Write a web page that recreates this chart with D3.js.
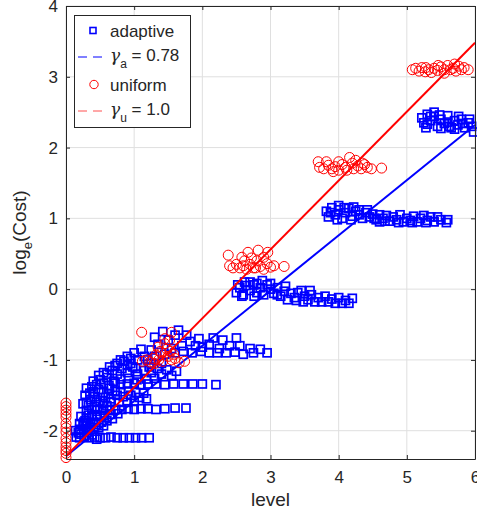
<!DOCTYPE html>
<html>
<head>
<meta charset="utf-8">
<script src="https://cdn.jsdelivr.net/npm/d3@7"></script>
<style>
  body { margin: 0; background: #fff; }
  text { font-family: "Liberation Sans", Arial, Helvetica, sans-serif; fill: #262626; }
</style>
</head>
<body>
<div class="canvas"></div>
<script>
// data: [level, log cost]
const adaptive = [
  // band near -2.1
  [0.15,-2.09],[0.2,-2.1],[0.27,-2.08],[0.34,-2.1],[0.42,-2.09],[0.5,-2.1],[0.58,-2.1],[0.66,-2.09],
  [0.75,-2.1],[0.84,-2.1],[0.93,-2.1],[1.02,-2.1],[1.11,-2.1],[1.22,-2.1],[0.22,-2.05],[0.3,-2.03],
  [0.38,-2.06],[0.45,-2.12],
  [0.14,-2.0],[0.18,-2.03],[0.26,-1.99],[0.32,-2.0],[0.4,-1.98],[0.48,-1.96],[0.55,-1.93],
  [0.2,-1.9],[0.26,-1.88],[0.36,-1.9],[0.44,-1.91],[0.52,-1.88],[0.6,-1.86],[0.68,-1.83],
  [0.22,-1.8],[0.3,-1.82],[0.38,-1.8],[0.46,-1.78],[0.56,-1.79],[0.66,-1.77],[0.76,-1.76],
  [0.2,-1.98],[0.25,-1.93],[0.3,-1.9],[0.35,-1.95],[0.4,-1.88],[0.28,-1.86],[0.45,-1.84],[0.5,-1.8],[0.33,-1.78],
  // band near -1.7
  [0.3,-1.72],[0.38,-1.7],[0.46,-1.7],[0.55,-1.71],[0.64,-1.7],[0.73,-1.7],[0.82,-1.7],[0.91,-1.69],
  [1.0,-1.7],[1.1,-1.69],[1.2,-1.69],[1.32,-1.7],[1.45,-1.69],[1.6,-1.68],[1.76,-1.68],[0.42,-1.66],[0.6,-1.65],
  [0.3,-1.6],[0.36,-1.56],[0.42,-1.52],[0.5,-1.58],[0.58,-1.53],[0.66,-1.55],[0.75,-1.5],[0.84,-1.52],
  [0.95,-1.5],[1.08,-1.53],[1.18,-1.55],[0.4,-1.45],[0.48,-1.42],[0.55,-1.46],[0.64,-1.4],[0.72,-1.44],
  [0.25,-1.62],[0.33,-1.64],[0.45,-1.6],[0.55,-1.62],[0.65,-1.6],[0.78,-1.6],[0.9,-1.6],[1.0,-1.58],
  [0.28,-1.5],[0.35,-1.47],[0.62,-1.48],[0.8,-1.45],[0.92,-1.44],[1.02,-1.46],[1.14,-1.47],[0.3,-1.4],[0.38,-1.38],
  // band near -1.35
  [0.45,-1.35],[0.55,-1.33],[0.63,-1.36],[0.72,-1.33],[0.8,-1.35],[0.9,-1.34],[1.0,-1.33],[1.1,-1.35],
  [1.2,-1.34],[1.32,-1.34],[1.45,-1.35],[1.58,-1.34],[1.72,-1.34],[1.86,-1.34],[2.0,-1.34],[2.2,-1.35],
  [0.5,-1.28],[0.6,-1.25],[0.7,-1.3],
  [0.6,-1.2],[0.68,-1.15],[0.75,-1.2],[0.82,-1.12],[0.9,-1.18],[0.98,-1.1],[1.05,-1.2],[1.15,-1.15],
  [1.25,-1.18],[1.4,-1.2],[1.55,-1.22],[0.75,-1.05],[0.85,-1.02],[0.95,-1.05],[1.05,-1.0],[1.15,-0.95],
  [0.4,-1.3],[0.8,-1.27],[0.92,-1.26],[1.04,-1.28],[1.18,-1.27],[1.3,-1.26],[0.48,-1.22],[0.55,-1.18],
  [0.64,-1.1],[0.72,-1.08],[0.9,-1.08],[1.02,-1.12],[1.22,-1.1],[1.34,-1.12],[1.48,-1.14],[1.62,-1.16],
  [0.8,-1.0],[0.9,-0.95],[1.25,-1.05],[1.4,-1.05],
  // band near -0.9
  [1.2,-1.0],[1.3,-0.95],[1.45,-0.92],[1.6,-0.9],[1.72,-0.88],[1.85,-0.9],[1.98,-0.88],[2.1,-0.9],
  [2.22,-0.9],[2.35,-0.9],[2.48,-0.89],[2.6,-0.92],[2.75,-0.9],[2.95,-0.9],[1.9,-0.8],[2.1,-0.78],
  [2.3,-0.72],[1.77,-0.65],[2.16,-0.69],[2.5,-0.69],[1.5,-0.72],[1.35,-0.78],[1.6,-0.65],[1.42,-0.6],
  [1.0,-0.9],[0.95,-0.98],[1.1,-0.85],[2.0,-0.82],[2.4,-0.8],[2.7,-0.84],
  [1.25,-0.86],[1.55,-0.84],[1.7,-0.8],[1.82,-0.74],[2.25,-0.84],[2.55,-0.8],[2.85,-0.85],[1.95,-0.7],
  [1.3,-0.68],[1.65,-0.58],
  // band near 0
  [2.5,-0.05],[2.55,0.02],[2.6,-0.08],[2.65,0.05],[2.7,-0.02],[2.75,0.06],[2.8,-0.05],[2.85,0.02],
  [2.9,-0.08],[2.95,0.06],[3.0,0.0],[3.05,-0.06],[3.1,0.02],[3.15,-0.1],[3.2,-0.03],[3.3,-0.06],
  [3.35,-0.12],[3.4,-0.05],[3.5,-0.1],[3.55,-0.15],[3.6,-0.08],[3.7,-0.12],[3.75,-0.18],[3.8,-0.1],
  [3.9,-0.14],[3.95,-0.2],[4.0,-0.12],[4.1,-0.16],[4.2,-0.13],[2.62,0.1],[2.8,0.08],[3.25,-0.15],
  [3.45,-0.02],[3.65,-0.18],[4.05,-0.2],
  [2.52,0.06],[2.7,0.1],[2.88,0.12],[3.0,0.08],[3.1,-0.08],[3.22,0.04],[3.38,-0.16],[3.58,-0.02],
  [3.85,-0.18],[4.15,-0.2],[2.58,-0.1],[2.76,-0.1],[3.48,-0.18],
  // band near 1
  [3.82,1.1],[3.85,1.02],[3.9,1.15],[3.95,1.05],[4.0,1.12],[4.05,1.0],[4.1,1.08],[4.15,1.14],
  [4.2,1.03],[4.25,1.1],[4.3,1.05],[4.35,1.0],[4.4,1.08],[4.45,1.02],[4.5,1.06],[4.55,0.98],
  [4.6,1.05],[4.65,1.0],[4.7,1.04],[4.75,0.96],[4.8,1.02],[4.85,0.98],[4.9,1.05],[4.95,0.95],
  [5.0,1.0],[5.05,0.97],[5.1,1.03],[5.15,0.95],[5.2,1.0],[5.3,0.97],[5.35,1.02],[5.4,0.95],
  [5.5,0.98],[5.6,0.98],[4.0,1.18],[4.3,1.12],[4.6,0.95],[5.25,1.04],
  [3.88,1.08],[4.08,1.15],[4.22,1.16],[4.42,1.12],[4.52,1.0],[4.68,0.96],[4.88,0.94],[5.08,0.94],
  [5.28,0.94],[5.45,1.02],[5.58,0.94],[3.98,0.98],[4.18,0.98],
  // band near 2.4
  [5.22,2.42],[5.25,2.35],[5.3,2.47],[5.35,2.38],[5.4,2.44],[5.45,2.3],[5.5,2.4],[5.55,2.34],
  [5.6,2.45],[5.65,2.28],[5.7,2.38],[5.75,2.32],[5.8,2.4],[5.85,2.28],[5.9,2.35],[5.95,2.3],
  [5.98,2.22],[5.28,2.28],[5.5,2.27],[5.7,2.26],[5.4,2.5],[5.6,2.36],
  [5.3,2.33],[5.48,2.46],[5.62,2.3],[5.82,2.34],[5.92,2.4],[5.35,2.44],[5.76,2.44]
];

const uniform = [
  [0,-2.38],[0,-2.32],[0,-2.28],[0,-2.23],[0,-2.17],[0,-2.11],[0,-2.02],[0,-1.96],[0,-1.9],
  [0,-1.81],[0,-1.76],[0,-1.71],[0,-1.66],[0,-1.61],
  [1.11,-0.61],[1.55,-0.61],[1.12,-1.02],[1.18,-1.0],[1.23,-1.03],[1.28,-0.98],[1.32,-0.93],[1.36,-1.0],
  [1.4,-0.9],[1.35,-0.82],[1.45,-0.77],[1.48,-0.85],[1.5,-0.95],[1.53,-0.88],[1.55,-1.0],[1.58,-0.92],
  [1.45,-0.7],[1.42,-1.02],[1.6,-0.98],[1.66,-1.04],[1.74,-1.02],[1.3,-1.05],[1.38,-0.88],[1.52,-0.72],
  [2.38,0.48],[2.67,0.52],[2.82,0.55],[2.96,0.52],[2.4,0.33],[2.45,0.3],[2.5,0.35],[2.55,0.3],
  [2.6,0.33],[2.65,0.28],[2.7,0.35],[2.75,0.3],[2.8,0.4],[2.85,0.32],[2.9,0.28],[2.95,0.36],
  [3.0,0.31],[3.05,0.33],[2.62,0.4],[2.72,0.44],[2.9,0.45],[3.2,0.32],[2.58,0.45],[2.78,0.3],
  [3.7,1.8],[3.72,1.72],[3.78,1.7],[3.85,1.75],[3.9,1.7],[3.95,1.73],[4.0,1.68],[4.05,1.76],
  [4.1,1.72],[4.16,1.86],[4.2,1.78],[4.22,1.7],[4.28,1.74],[4.33,1.7],[4.38,1.76],[4.42,1.72],
  [4.48,1.7],[4.63,1.71],[3.82,1.8],[4.0,1.8],[4.25,1.82],[4.35,1.78],[3.92,1.66],[4.12,1.68],
  [5.08,3.1],[5.13,3.12],[5.18,3.08],[5.22,3.13],[5.27,3.07],[5.32,3.1],[5.36,3.06],[5.4,3.12],
  [5.45,3.09],[5.5,3.14],[5.55,3.1],[5.6,3.16],[5.64,3.1],[5.68,3.12],[5.72,3.08],[5.76,3.15],
  [5.8,3.1],[5.84,3.13],[5.9,3.1],[5.28,3.13],[5.46,3.16],[5.7,3.18],[5.55,3.05]
];

// fitted lines, value at level 0 and 6
const fitLevels = [0, 6];
const adaptiveFit = [-2.36, 2.32];
const uniformFit = [-2.36, 3.48];

const xTicks = [0, 1, 2, 3, 4, 5, 6];
const yTicks = [-2, -1, 0, 1, 2, 3, 4];

//1. dimensions
const margin = {top: 6, right: 2, bottom: 54, left: 66};
const width = 477 - margin.left - margin.right;
const height = 513 - margin.top - margin.bottom;

const svg = d3.select('.canvas')
    .append('svg')
    .attr('width', 477)
    .attr('height', 513);

const graph = svg.append('g')
    .attr('transform', `translate(${margin.left},${margin.top})`);

const x = d3.scaleLinear().domain([0, 6]).range([0, width]);
const y = d3.scaleLinear().domain([-2.4, 4]).range([height, 0]);

//2. grid
graph.append('g').selectAll('line')
    .data(xTicks).enter().append('line')
    .attr('x1', d => x(d)).attr('x2', d => x(d))
    .attr('y1', 0).attr('y2', height)
    .attr('stroke', '#dfdfdf').attr('stroke-width', 1);
graph.append('g').selectAll('line')
    .data(yTicks).enter().append('line')
    .attr('y1', d => y(d)).attr('y2', d => y(d))
    .attr('x1', 0).attr('x2', width)
    .attr('stroke', '#dfdfdf').attr('stroke-width', 1);

//3. marks, in the order they were plotted
const line = d3.line().x(d => x(d[0])).y(d => y(d[1]));
const sq = 8;

graph.append('g').selectAll('rect')
    .data(adaptive).enter().append('rect')
    .attr('x', d => x(d[0]) - sq / 2)
    .attr('y', d => y(d[1]) - sq / 2)
    .attr('width', sq).attr('height', sq)
    .attr('fill', 'none')
    .attr('stroke', '#0000ff')
    .attr('stroke-width', 1.7);

graph.append('path')
    .datum(fitLevels.map((l, i) => [l, adaptiveFit[i]]))
    .attr('d', line)
    .attr('fill', 'none')
    .attr('stroke', '#0000ff')
    .attr('stroke-width', 2);

graph.append('g').selectAll('circle')
    .data(uniform).enter().append('circle')
    .attr('cx', d => x(d[0]))
    .attr('cy', d => y(d[1]))
    .attr('r', 5)
    .attr('fill', 'none')
    .attr('stroke', '#ff0000')
    .attr('stroke-width', 1);

graph.append('path')
    .datum(fitLevels.map((l, i) => [l, uniformFit[i]]))
    .attr('d', line)
    .attr('fill', 'none')
    .attr('stroke', '#ff0000')
    .attr('stroke-width', 2);

//4. axes (box on, ticks inside on all four sides)
const xAxis = d3.axisBottom(x).tickValues(xTicks).tickSizeInner(-4).tickSizeOuter(0).tickPadding(12)
    .tickFormat(d3.format('d'));
const yAxis = d3.axisLeft(y).tickValues(yTicks).tickSizeInner(-4).tickSizeOuter(0).tickPadding(8)
    .tickFormat(d => d < 0 ? '-' + Math.abs(d) : d);
const xTop = d3.axisTop(x).tickValues(xTicks).tickSizeInner(-4).tickSizeOuter(0).tickFormat('');
const yRight = d3.axisRight(y).tickValues(yTicks).tickSizeInner(-4).tickSizeOuter(0).tickFormat('');

graph.append('g').attr('transform', `translate(0,${height})`).call(xAxis);
graph.append('g').call(yAxis);
graph.append('g').call(xTop);
graph.append('g').attr('transform', `translate(${width},0)`).call(yRight);

graph.selectAll('.domain').attr('stroke', '#262626');
graph.selectAll('.tick line').attr('stroke', '#262626');
graph.selectAll('.tick text').attr('font-size', 17).attr('fill', '#262626')
    .style('font-family', '"Liberation Sans", Arial, sans-serif');

//5. axis labels
svg.append('text')
    .attr('x', margin.left + width / 2)
    .attr('y', 506)
    .attr('text-anchor', 'middle')
    .attr('font-size', 19)
    .text('level');

const ylab = svg.append('text')
    .attr('transform', `translate(26,${margin.top + height / 2}) rotate(-90)`)
    .attr('text-anchor', 'middle')
    .attr('font-size', 19);
ylab.append('tspan').text('log');
ylab.append('tspan').attr('font-size', 13).attr('dy', 6).text('e');
ylab.append('tspan').attr('dy', -6).text('(Cost)');

//6. legend
const legend = svg.append('g');
legend.append('rect')
    .attr('x', 74.5).attr('y', 15.5)
    .attr('width', 116).attr('height', 112)
    .attr('fill', '#fff')
    .attr('stroke', '#262626')
    .attr('stroke-width', 1);

const entries = [
    {kind: 'square', color: '#0000ff', label: 'adaptive', y: 30.5},
    {kind: 'line', color: '#0000ff', g: 'a', val: ' = 0.78', y: 57},
    {kind: 'circle', color: '#ff0000', label: 'uniform', y: 84.5},
    {kind: 'line', color: '#ff5050', g: 'u', val: ' = 1.0', y: 111}
];

entries.forEach(e => {
    if (e.kind === 'square') {
        legend.append('rect')
            .attr('x', 90).attr('y', e.y - 3).attr('width', 6).attr('height', 6)
            .attr('fill', 'none').attr('stroke', e.color).attr('stroke-width', 1.6);
    } else if (e.kind === 'circle') {
        legend.append('circle')
            .attr('cx', 94).attr('cy', e.y).attr('r', 4.2)
            .attr('fill', 'none').attr('stroke', e.color).attr('stroke-width', 1);
    } else {
        legend.append('line')
            .attr('x1', 78).attr('x2', 103).attr('y1', e.y).attr('y2', e.y)
            .attr('stroke', e.color).attr('stroke-width', 1)
            .attr('stroke-dasharray', '9,6');
    }
    const t = legend.append('text')
        .attr('x', 110)
        .attr('font-size', 17);
    if (e.label) {
        t.attr('y', e.y + 6.2).text(e.label);
    } else {
        t.attr('y', e.y + 3.5);
        t.append('tspan').attr('font-family', '"DejaVu Serif", serif').attr('font-style', 'italic').text('γ');
        t.append('tspan').attr('font-size', 12).attr('dy', 7).text(e.g);
        t.append('tspan').attr('dy', -7).text(e.val);
    }
});
</script>
</body>
</html>
